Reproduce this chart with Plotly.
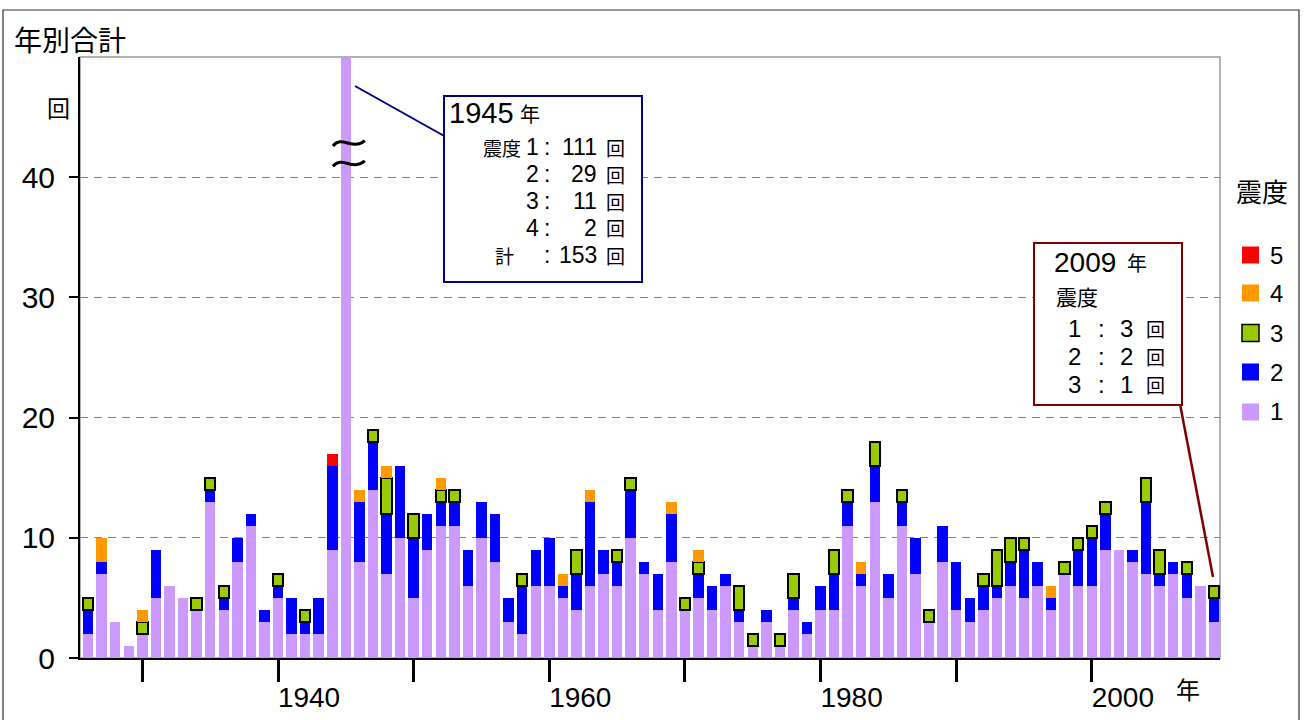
import plotly.graph_objects as go

# ---------------- data ----------------
years = list(range(1926, 2010))
shindo1 = [2, 7, 3, 1,
           2, 5, 6, 5, 4, 13, 4, 8, 11, 3,
           5, 2, 2, 2, 9, 111, 8, 14, 7, 10,
           5, 9, 11, 11, 6, 10, 8, 3, 2, 6,
           6, 5, 4, 6, 7, 6, 10, 7, 4, 8,
           4, 5, 4, 6, 3, 1, 3, 1, 4, 2,
           4, 4, 11, 6, 13, 5, 11, 7, 3, 8,
           4, 3, 4, 5, 6, 5, 6, 4, 7, 6,
           6, 9, 9, 8, 7, 6, 7, 5, 6, 3]
shindo2 = [2, 1, 0, 0,
           0, 4, 0, 0, 0, 1, 1, 2, 1, 1,
           1, 3, 1, 3, 7, 29, 5, 4, 5, 6,
           5, 3, 2, 2, 3, 3, 4, 2, 4, 3,
           4, 1, 3, 7, 2, 2, 4, 1, 3, 4,
           0, 2, 2, 1, 1, 0, 1, 0, 1, 1,
           2, 3, 2, 1, 3, 2, 2, 3, 0, 3,
           4, 2, 2, 1, 2, 4, 2, 1, 0, 3,
           4, 3, 0, 1, 6, 1, 1, 2, 0, 2]
shindo3 = [1, 0, 0, 0,
           1, 0, 0, 0, 1, 1, 1, 0, 0, 0,
           1, 0, 1, 0, 0, 11, 0, 1, 3, 0,
           2, 0, 1, 1, 0, 0, 0, 0, 1, 0,
           0, 0, 2, 0, 0, 1, 1, 0, 0, 0,
           1, 1, 0, 0, 2, 1, 0, 1, 2, 0,
           0, 2, 1, 0, 2, 0, 1, 0, 1, 0,
           0, 0, 1, 3, 2, 1, 0, 0, 1, 1,
           1, 1, 0, 0, 2, 2, 0, 1, 0, 1]
shindo4 = [0, 2, 0, 0,
           1, 0, 0, 0, 0, 0, 0, 0, 0, 0,
           0, 0, 0, 0, 0, 2, 1, 0, 1, 0,
           0, 0, 1, 0, 0, 0, 0, 0, 0, 0,
           0, 1, 0, 1, 0, 0, 0, 0, 0, 1,
           0, 1, 0, 0, 0, 0, 0, 0, 0, 0,
           0, 0, 0, 1, 0, 0, 0, 0, 0, 0,
           0, 0, 0, 0, 0, 0, 0, 1, 0, 0,
           0, 0, 0, 0, 0, 0, 0, 0, 0, 0]
shindo5 = [0, 0, 0, 0,
           0, 0, 0, 0, 0, 0, 0, 0, 0, 0,
           0, 0, 0, 0, 1, 0, 0, 0, 0, 0,
           0, 0, 0, 0, 0, 0, 0, 0, 0, 0,
           0, 0, 0, 0, 0, 0, 0, 0, 0, 0,
           0, 0, 0, 0, 0, 0, 0, 0, 0, 0,
           0, 0, 0, 0, 0, 0, 0, 0, 0, 0,
           0, 0, 0, 0, 0, 0, 0, 0, 0, 0,
           0, 0, 0, 0, 0, 0, 0, 0, 0, 0]

series_names = ["1", "2", "3", "4", "5"]
series_colors = ["#CC99FF", "#0000FF", "#99CC00", "#FF9900", "#FF0000"]
series_values = [shindo1, shindo2, shindo3, shindo4, shindo5]

x_tickvals = [1930, 1940, 1950, 1960, 1970, 1980, 1990, 2000]
x_ticktext = ["", "1940", "", "1960", "", "1980", "", "2000"]
y_tickvals = [0, 10, 20, 30, 40]

# ---------------- layout helpers ----------------
W, H = 1304, 720
PL, PR, PT, PB = 80, 1220, 57, 658


def px(x):
    return (x - PL) / (PR - PL)


def py(y):
    return (PB - y) / (PB - PT)


NUM = "Liberation Sans Narrow, Arial Narrow, Liberation Sans, Arial, sans-serif"
CJK = "Noto Sans CJK JP, sans-serif"

fig = go.Figure()
for name, color, vals in zip(series_names, series_colors, series_values):
    yv = [v if v else None for v in vals]
    line = dict(color="black", width=2) if name == "3" else dict(width=0)
    fig.add_trace(go.Bar(x=years, y=yv, name=name, width=0.77,
                         marker=dict(color=color, line=line),
                         showlegend=False))

annotations = []
shapes = []


def text(x, y, t, size, font=NUM, xanchor="center", color="black"):
    annotations.append(dict(x=px(x), y=py(y), xref="paper", yref="paper",
                            text=t, showarrow=False, xanchor=xanchor,
                            yanchor="middle", borderpad=0,
                            font=dict(family=font, size=size, color=color)))


# titles / units
text(70, 39, "年別合計", 28, CJK)
text(58, 107, "回", 23, CJK)
text(1188, 688, "年", 24, CJK)

# outer frame
shapes.append(dict(type="rect", xref="paper", yref="paper",
                   x0=px(3), x1=px(1299), y0=py(722), y1=py(10),
                   line=dict(color="#333333", width=1.2), layer="below"))
# plot frame (gray top/right)
shapes.append(dict(type="rect", xref="paper", yref="paper",
                   x0=0, x1=1, y0=0, y1=1,
                   line=dict(color="#999999", width=1.5), layer="below"))

# break mark on 1945 bar
i45 = years.index(1945)
for yc in (42.8, 41.1):
    x0, x1 = 1944.05, 1946.4
    w = x1 - x0
    shapes.append(dict(type="path", xref="x", yref="y",
                       path=f"M {x0},{yc-0.2} C {x0+w*0.3},{yc+0.75} {x0+w*0.6},{yc-0.65} {x1},{yc+0.25}",
                       line=dict(color="black", width=3)))

# 1945 callout
shapes.append(dict(type="line", xref="paper", yref="paper",
                   x0=px(355), y0=py(86), x1=px(446), y1=py(137),
                   line=dict(color="#000080", width=2)))
shapes.append(dict(type="rect", xref="paper", yref="paper",
                   x0=px(444), x1=px(642), y0=py(282), y1=py(96),
                   line=dict(color="#000080", width=2), fillcolor="white"))
text(448, 113, "1945", 29, NUM, "left")
text(530, 113, "年", 20, CJK)
labels45 = ["震度", "", "", "", "計"]
nums45 = ["1", "2", "3", "4", ""]
vals45 = [shindo1[i45], shindo2[i45], shindo3[i45], shindo4[i45],
          shindo1[i45] + shindo2[i45] + shindo3[i45] + shindo4[i45] + shindo5[i45]]
ys45 = [147, 174, 201, 228, 255]
for lab, n, v, yy in zip(labels45, nums45, vals45, ys45):
    if lab == "震度":
        text(522, yy, lab, 19, CJK, "right")
    elif lab:
        text(504, yy, lab, 19, CJK)
    if n:
        text(532, yy, n, 23, NUM)
    text(547, yy, ":", 23, NUM)
    text(598, yy, str(v), 23, NUM, "right")
    text(615, yy, "回", 19, CJK)

# 2009 callout
i09 = years.index(2009)
shapes.append(dict(type="line", xref="paper", yref="paper",
                   x0=px(1180), y0=py(404), x1=px(1213), y1=py(577),
                   line=dict(color="#800000", width=2.5)))
shapes.append(dict(type="rect", xref="paper", yref="paper",
                   x0=px(1034), x1=px(1182), y0=py(405), y1=py(243),
                   line=dict(color="#800000", width=2), fillcolor="white"))
text(1053, 262, "2009", 28, NUM, "left")
text(1137, 262, "年", 20, CJK)
text(1077, 296, "震度", 21, CJK)
vals09 = [shindo1[i09], shindo2[i09], shindo3[i09]]
for n, v, yy in zip(["1", "2", "3"], vals09, [328, 356, 384]):
    text(1074, yy, n, 24, NUM)
    text(1101, yy, ":", 24, NUM)
    text(1134, yy, str(v), 24, NUM, "right")
    text(1155, yy, "回", 19, CJK)

# legend (manual)
text(1262, 190, "震度", 26, CJK)
leg_y = [255, 293, 333, 372, 412]
for name, color, yy in zip(series_names[::-1], series_colors[::-1], leg_y):
    lw = 1.5 if name == "3" else 0
    shapes.append(dict(type="rect", xref="paper", yref="paper",
                       x0=px(1242), x1=px(1259), y0=py(yy + 8.5), y1=py(yy - 8.5),
                       fillcolor=color, line=dict(color="black", width=lw)))
    text(1276, yy, name, 24, NUM)

fig.update_layout(
    width=W, height=H,
    margin=dict(l=PL, r=W - PR, t=PT, b=H - PB, pad=0, autoexpand=False),
    paper_bgcolor="white", plot_bgcolor="white",
    barmode="stack", bargap=0,
    showlegend=False,
    annotations=annotations, shapes=shapes,
    xaxis=dict(range=[1925.4, 2009.45], tickvals=x_tickvals, ticktext=x_ticktext,
               ticks="outside", ticklen=22, tickwidth=3, tickcolor="black",
               showline=True, linecolor="black", linewidth=2,
               showgrid=False, zeroline=False, automargin=False,
               ticklabelshift=31, ticklabelstandoff=-9,
               tickfont=dict(family=NUM, size=28, color="black")),
    yaxis=dict(range=[0, 50], tickvals=y_tickvals,
               ticks="outside", ticklen=9, tickwidth=1.5, tickcolor="black",
               showline=True, linecolor="black", linewidth=2,
               showgrid=True, gridcolor="#808080", gridwidth=1, griddash="8px,6px",
               zeroline=False, automargin=False, ticklabelstandoff=8,
               tickfont=dict(family=NUM, size=30, color="black")),
)

fig.write_html("out.html", config={"displayModeBar": False},
               post_script="document.body.style.margin='0px';document.body.style.overflow='hidden';")
